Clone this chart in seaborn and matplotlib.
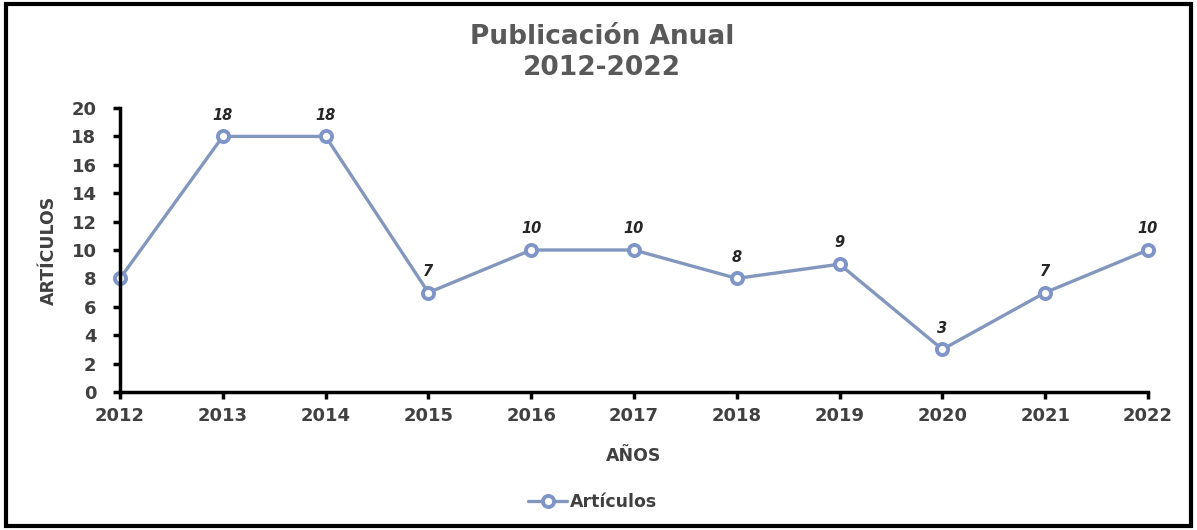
import matplotlib
matplotlib.use("Agg")
import matplotlib.pyplot as plt
import seaborn as sns
import pandas as pd
from matplotlib.patches import Rectangle

years = [2012, 2013, 2014, 2015, 2016, 2017, 2018, 2019, 2020, 2021, 2022]
articulos = [8, 18, 18, 7, 10, 10, 8, 9, 3, 7, 10]
yticks = [0, 2, 4, 6, 8, 10, 12, 14, 16, 18, 20]

sns.set_theme(style="white")
plt.rcParams['font.family'] = ['DejaVu Sans']

df = pd.DataFrame({"Año": years, "Artículos": articulos})

fig = plt.figure(figsize=(11.97, 5.30), dpi=100)
ax = fig.add_axes([0.1003, 0.2604, 0.8587, 0.5358])

line_color = "#8397BE"
sns.lineplot(data=df, x="Año", y="Artículos", ax=ax, color=line_color,
             linewidth=2.4, marker="o", markersize=8, markerfacecolor="white",
             markeredgecolor="#7F95C8", markeredgewidth=2.8, label="Artículos",
             clip_on=False)

ax.set_xlim(2012, 2022)
ax.set_ylim(0, 20)
ax.set_xticks(years)
ax.set_xticklabels([str(y) for y in years])
ax.set_yticks(yticks)

for x, y in list(zip(years, articulos))[1:]:
    ax.annotate(str(y), (x, y), xytext=(0, 10), textcoords="offset points",
                ha="center", va="bottom", fontsize=10.5, fontweight="bold",
                fontstyle="italic", color="#262626")

for s in ["top", "right"]:
    ax.spines[s].set_visible(False)
for s in ["left", "bottom"]:
    ax.spines[s].set_color("black")
    ax.spines[s].set_linewidth(2.5)

ax.tick_params(axis="both", which="major", direction="out", length=5,
               width=2.5, color="black", labelsize=13, labelcolor="#404040",
               bottom=True, left=True)
ax.tick_params(axis="y", pad=12)
ax.tick_params(axis="x", pad=6)
for lab in ax.get_xticklabels() + ax.get_yticklabels():
    lab.set_fontweight("bold")

ax.set_xlabel("AÑOS", fontsize=12.5, fontweight="bold", color="#404040", labelpad=16)
ax.set_ylabel("ARTÍCULOS", fontsize=12.5, fontweight="bold", color="#404040", labelpad=10)

fig.suptitle("Publicación Anual\n2012-2022", x=0.503, y=0.955, fontsize=19,
             fontweight="bold", color="#595959", linespacing=1.25)

leg = ax.legend(loc="upper center", bbox_to_anchor=(0.46, -0.30), frameon=False,
                fontsize=12.5, handlelength=2.2, handletextpad=0.2)
for t in leg.get_texts():
    t.set_fontweight("bold")
    t.set_color("#404040")

fig.patches.append(Rectangle((0.005, 0.008), 0.99, 0.984, transform=fig.transFigure,
                             fill=False, edgecolor="black", linewidth=3))

fig.savefig("out.png", dpi=100, facecolor="white")
